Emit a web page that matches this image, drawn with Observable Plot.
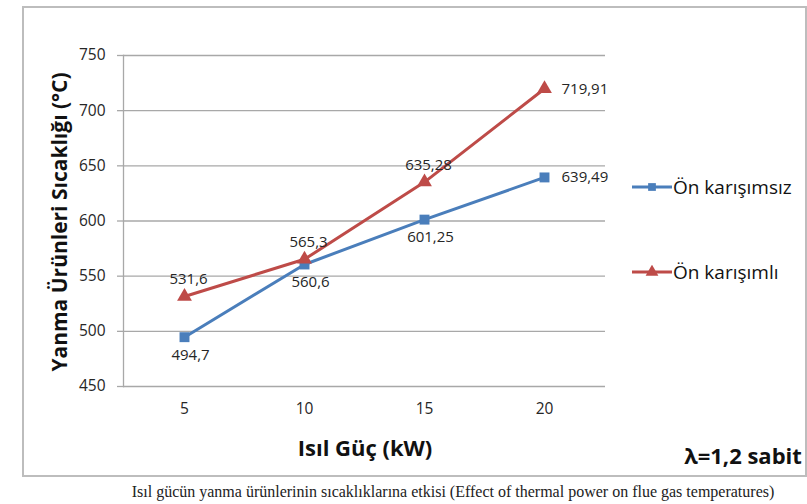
<!DOCTYPE html>
<html>
<head>
<meta charset="utf-8">
<script src="https://cdn.jsdelivr.net/npm/d3@7"></script>
<script src="https://cdn.jsdelivr.net/npm/@observablehq/plot@0.6"></script>
<style>
  html, body { margin: 0; padding: 0; background: #fff; }
  #wrap { position: relative; width: 807px; height: 504px; overflow: hidden; font-family: "Open Sans", sans-serif; }
  #frame { position: absolute; left: 22px; top: 6px; width: 781px; height: 467px; border: 2px solid #bdbdbd; }
  #chart { position: absolute; left: 0; top: 0; }
  .ytitle { position: absolute; left: 59px; top: 222px; transform: translate(-50%, -50%) rotate(-90deg); white-space: nowrap; font-weight: 700; font-size: 21px; color: #111; }
  .xtitle { position: absolute; left: 365px; top: 447px; transform: translate(-50%, -50%); white-space: nowrap; font-weight: 700; font-size: 22px; color: #111; }
  .lambda { position: absolute; left: 743px; top: 455px; transform: translate(-50%, -50%); white-space: nowrap; font-weight: 700; font-size: 22px; color: #111; }
  .caption { position: absolute; left: 453px; top: 492px; transform: translate(-50%, -50%); white-space: nowrap; font-family: "Liberation Serif", "DejaVu Serif", serif; font-size: 16px; color: #222; }
  .leg { position: absolute; left: 632px; display: flex; align-items: center; white-space: nowrap; font-size: 19px; color: #111; transform: translateY(-50%); }
  .leg svg { display: block; margin-right: 1px; }
</style>
</head>
<body>
<div id="wrap">
  <div id="frame"></div>
  <div id="chart"></div>
  <div class="ytitle">Yanma Ürünleri Sıcaklığı (°C)</div>
  <div class="xtitle">Isıl Güç (kW)</div>
  <div class="lambda">λ=1,2 sabit</div>
  <div class="caption">Isıl gücün yanma ürünlerinin sıcaklıklarına etkisi (Effect of thermal power on flue gas temperatures)</div>
  <div class="leg" id="leg1" style="top:187px"></div>
  <div class="leg" id="leg2" style="top:272px"></div>
</div>
<script>
// ---- data ----
const thermalPower = [5, 10, 15, 20];
const onKarisimsiz = [494.7, 560.6, 601.25, 639.49];
const onKarisimli = [531.6, 565.3, 635.28, 719.91];
const seriesNames = ["Ön karışımsız", "Ön karışımlı"];
const yTicks = [450, 500, 550, 600, 650, 700, 750];

const colors = ["#4a7ebb", "#be4b48"];
const fmt = v => String(v).replace(".", ",");

const blue = thermalPower.map((x, i) => ({x, y: onKarisimsiz[i], s: seriesNames[0]}));
const red = thermalPower.map((x, i) => ({x, y: onKarisimli[i], s: seriesNames[1]}));
const lastIdx = thermalPower.length - 1;

const chart = Plot.plot({
  width: 807,
  height: 476,
  marginLeft: 123,
  marginRight: 202,
  marginTop: 55,
  marginBottom: 90,
  style: {fontFamily: "'Open Sans', sans-serif", fontSize: "15px", color: "#262626", background: "transparent"},
  x: {type: "point", domain: thermalPower, padding: 0.5, align: 0.5},
  y: {domain: [450, 750]},
  marks: [
    Plot.gridY(yTicks, {stroke: "#a8a8a8", strokeOpacity: 1, strokeWidth: 1.3}),
    Plot.axisY(yTicks, {tickSize: 6, tickPadding: 12, stroke: "#a8a8a8", strokeWidth: 1.3, fill: "#262626", fontSize: 15.5, label: null}),
    Plot.axisX(thermalPower, {tickSize: 0, tickPadding: 16, fill: "#262626", fontSize: 15.5, label: null}),
    Plot.frame({anchor: "left", stroke: "#a8a8a8", strokeWidth: 1.3}),
    Plot.line(blue, {x: "x", y: "y", stroke: colors[0], strokeWidth: 3}),
    Plot.line(red, {x: "x", y: "y", stroke: colors[1], strokeWidth: 3}),
    Plot.dot(blue, {x: "x", y: "y", symbol: "square", r: 5.6, fill: colors[0]}),
    Plot.dot(red, {x: "x", y: "y", symbol: "triangle", r: 5.5, fill: colors[1]}),
    // labels: blue below, red above, last points to the right
    Plot.text(blue.slice(0, lastIdx), {x: "x", y: "y", text: d => fmt(d.y), dy: 18, dx: 6, fill: "#262626", fontSize: 15}),
    Plot.text(red.slice(0, lastIdx), {x: "x", y: "y", text: d => fmt(d.y), dy: -17, dx: 4, fill: "#262626", fontSize: 15}),
    Plot.text([blue[lastIdx], red[lastIdx]], {x: "x", y: "y", text: d => fmt(d.y), dx: 17, textAnchor: "start", fill: "#262626", fontSize: 15})
  ]
});
document.getElementById("chart").appendChild(chart);

// legend
function legendItem(id, color, symbol, name) {
  const el = document.getElementById(id);
  const sw = d3.create("svg").attr("width", 40).attr("height", 14);
  sw.append("line").attr("x1", 0).attr("x2", 40).attr("y1", 7).attr("y2", 7).attr("stroke", color).attr("stroke-width", 3);
  sw.append("path").attr("transform", "translate(20,7)").attr("d", d3.symbol(symbol, symbol === d3.symbolSquare ? 60 : 70)()).attr("fill", color);
  el.appendChild(sw.node());
  const t = document.createElement("span");
  t.textContent = name;
  el.appendChild(t);
}
legendItem("leg1", colors[0], d3.symbolSquare, seriesNames[0]);
legendItem("leg2", colors[1], d3.symbolTriangle, seriesNames[1]);
</script>
</body>
</html>
